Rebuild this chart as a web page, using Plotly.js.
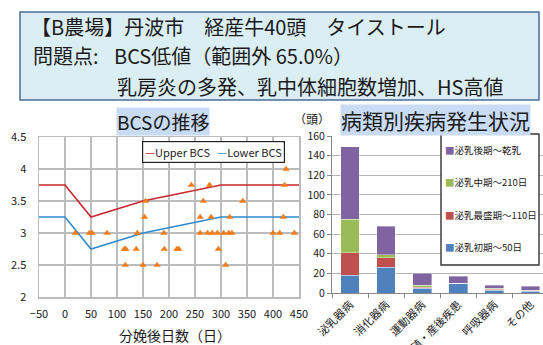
<!DOCTYPE html>
<html>
<head>
<meta charset="utf-8">
<script src="https://cdn.plot.ly/plotly-3.0.1.min.js"></script>
<style>
  html, body { margin: 0; padding: 0; background: #fff; }
  #chart { width: 543px; height: 345px; }
</style>
</head>
<body>
<div id="chart"></div>
<script>
// ---- BCS scatter: days after calving vs body condition score ----
const bcsDays = [20, 47, 52, 81, 139, 190, 260, 274, 283, 293, 305, 315, 321, 400, 413, 441,
                 114, 117, 137, 191, 215, 219, 295,
                 116, 150, 177, 309,
                 153, 260, 281, 317, 420,
                 155, 266, 342,
                 243, 278, 422,
                 425];
const bcsScores = [3, 3, 3, 3, 3, 3, 3, 3, 3, 3, 3, 3, 3, 3, 3, 3,
                   2.75, 2.75, 2.75, 2.75, 2.75, 2.75, 2.75,
                   2.5, 2.5, 2.5, 2.5,
                   3.25, 3.25, 3.25, 3.25, 3.25,
                   3.5, 3.5, 3.5,
                   3.75, 3.75, 3.75,
                   4];

// target band
const bandDays = [-50, 0, 50, 150, 300, 450];
const upperBCS = [3.75, 3.75, 3.25, 3.5, 3.75, 3.75];
const lowerBCS = [3.25, 3.25, 2.75, 3.0, 3.25, 3.25];
const bandNames = ['Upper BCS', 'Lower BCS'];

// ---- disease counts by category and lactation stage ----
const diseaseCats = ['泌乳器病', '消化器病', '運動器病', '繁殖・産後疾患', '呼吸器病', 'その他'];
const stageNames = ['泌乳初期～50日', '泌乳最盛期～110日', '泌乳中期～210日', '泌乳後期～乾乳'];
const earlyStage = [18, 26, 5, 10, 3, 2];
const peakStage  = [23, 10, 1, 0, 1, 1];
const midStage   = [34, 3, 2, 0, 1, 0];
const lateStage  = [74, 29, 12, 7, 3, 4];

const headerLine1 = '【B農場】丹波市　経産牛40頭　タイストール';
const headerLabel = '問題点:';
const headerLine2 = 'BCS低値（範囲外 65.0%）';
const headerLine3 = '乳房炎の多発、乳中体細胞数増加、HS高値';

const W = 543, H = 345;
const px = x => x / W;
const py = y => 1 - y / H;

const FONT = '"Noto Sans CJK JP", "Noto Sans", sans-serif';
const stageColors = ['#4f81bd', '#c0504d', '#9bbb59', '#8064a2'];
const upperColor = '#c8282e';
const lowerColor = '#2f8ad0';
const gridGray = '#bcbcbc';

const traces = [
  { x: bandDays, y: upperBCS, name: bandNames[0], type: 'scatter', mode: 'lines',
    line: { color: upperColor, width: 1.6 }, xaxis: 'x', yaxis: 'y', showlegend: false },
  { x: bandDays, y: lowerBCS, name: bandNames[1], type: 'scatter', mode: 'lines',
    line: { color: lowerColor, width: 1.6 }, xaxis: 'x', yaxis: 'y', showlegend: false },
  { x: bcsDays, y: bcsScores, name: 'BCS', type: 'scatter', mode: 'markers',
    marker: { symbol: 'triangle-up', size: 6.5, color: '#f07c1c' },
    xaxis: 'x', yaxis: 'y', showlegend: false }
];

const stageValues = [earlyStage, peakStage, midStage, lateStage];
stageValues.forEach((vals, i) => {
  traces.push({
    x: diseaseCats, y: vals, name: stageNames[i], type: 'bar',
    marker: { color: stageColors[i], line: { color: 'rgba(255,255,255,0.45)', width: 0.8 } },
    xaxis: 'x2', yaxis: 'y2', showlegend: false
  });
});

const shapes = [
  // header panel
  { type: 'rect', xref: 'paper', yref: 'paper', x0: px(20), x1: px(539), y0: py(100), y1: py(12),
    fillcolor: '#dbeef4', line: { color: '#4a6e98', width: 1.5 }, layer: 'below' },
  // stage legend frame
  { type: 'rect', xref: 'paper', yref: 'paper', x0: px(441), x1: px(539), y0: py(265), y1: py(134),
    fillcolor: '#ffffff', line: { color: '#333333', width: 1.4 }, layer: 'above' }
];

const annotations = [
  { text: headerLine1, x: px(29), y: py(27), xanchor: 'left', yanchor: 'middle' },
  { text: headerLabel, x: px(31), y: py(56), xanchor: 'left', yanchor: 'middle' },
  { text: headerLine2, x: px(112), y: py(56), xanchor: 'left', yanchor: 'middle' },
  { text: headerLine3, x: px(115), y: py(86), xanchor: 'left', yanchor: 'middle' }
].map(a => Object.assign({ xref: 'paper', yref: 'paper', showarrow: false,
  font: { family: FONT, size: 20, color: '#1a1a1a' } }, a));

// panel titles
annotations.push({ text: 'BCSの推移', xref: 'paper', yref: 'paper', x: px(163), y: py(121),
  xanchor: 'center', yanchor: 'middle', showarrow: false, bgcolor: '#c9dcf4', borderpad: 0,
  font: { family: FONT, size: 19, color: '#1a1a1a' } });
annotations.push({ text: '病類別疾病発生状況', xref: 'paper', yref: 'paper', x: px(435), y: py(120),
  xanchor: 'center', yanchor: 'middle', showarrow: false, bgcolor: '#c9dcf4', borderpad: 0,
  font: { family: FONT, size: 21, color: '#1a1a1a' } });
annotations.push({ text: '（頭）', xref: 'paper', yref: 'paper', x: px(312), y: py(118),
  xanchor: 'center', yanchor: 'middle', showarrow: false,
  font: { family: FONT, size: 12, color: '#1a1a1a' } });
annotations.push({ text: '分娩後日数（日）', xref: 'paper', yref: 'paper', x: px(175), y: py(335),
  xanchor: 'center', yanchor: 'middle', showarrow: false,
  font: { family: FONT, size: 14, color: '#1a1a1a' } });

// BCS band legend
annotations.push({
  text: '<span style="color:' + upperColor + '">—</span>' + bandNames[0] + '   ' +
        '<span style="color:' + lowerColor + '">—</span>' + bandNames[1],
  xref: 'paper', yref: 'paper', x: px(213), y: py(152), xanchor: 'center', yanchor: 'middle',
  showarrow: false, bgcolor: '#ffffff', bordercolor: '#222222', borderwidth: 1.2, borderpad: 2,
  font: { family: FONT, size: 11, color: '#1a1a1a' } });

// stage legend entries, latest stage on top
const legendRows = [150, 182, 215, 247];
for (let k = 0; k < 4; k++) {
  const i = 3 - k;
  annotations.push({
    text: '<span style="color:' + stageColors[i] + '">■</span>' + stageNames[i],
    xref: 'paper', yref: 'paper', x: px(443), y: py(legendRows[k]),
    xanchor: 'left', yanchor: 'middle', showarrow: false,
    font: { family: FONT, size: 9.5, color: '#1a1a1a' } });
}

const layout = {
  width: W, height: H,
  margin: { l: 0, r: 0, t: 0, b: 0 },
  paper_bgcolor: '#ffffff', plot_bgcolor: '#ffffff',
  font: { family: FONT, color: '#1a1a1a' },
  showlegend: false,
  barmode: 'stack', bargap: 0.48,
  xaxis: {
    domain: [px(39), px(299)], range: [-50, 450], dtick: 50, tick0: 0,
    showgrid: true, gridcolor: gridGray, gridwidth: 1.5, zeroline: false,
    showline: true, linecolor: gridGray, linewidth: 1.5, mirror: true,
    ticks: '', ticklabelstandoff: 6, tickfont: { size: 11, color: '#1a1a1a' }, anchor: 'y'
  },
  yaxis: {
    domain: [py(297), py(137)], range: [2, 4.5], dtick: 0.5,
    showgrid: true, gridcolor: gridGray, gridwidth: 1.5, zeroline: false,
    showline: true, linecolor: gridGray, linewidth: 1.5, mirror: true,
    ticks: '', ticklabelstandoff: 9, tickfont: { size: 11, color: '#1a1a1a' }, anchor: 'x'
  },
  xaxis2: {
    domain: [px(332), 1], type: 'category', range: [-0.5, 5.35],
    tickson: 'boundaries', ticks: 'outside', ticklen: 4, tickcolor: '#888888',
    showline: true, linecolor: '#888888', linewidth: 1, showgrid: false,
    tickangle: -45, tickfont: { size: 11, color: '#1a1a1a' }, anchor: 'y2'
  },
  yaxis2: {
    domain: [py(293), py(136)], range: [0, 160], dtick: 20,
    showgrid: true, gridcolor: '#b4b4b4', gridwidth: 1, zeroline: false,
    showline: true, linecolor: '#888888', linewidth: 1,
    ticks: 'outside', ticklen: 4, tickcolor: '#888888',
    tickfont: { size: 10.5, color: '#1a1a1a' }, anchor: 'x2'
  },
  shapes: shapes,
  annotations: annotations
};

Plotly.newPlot('chart', traces, layout, { staticPlot: true, displayModeBar: false });
</script>
</body>
</html>
